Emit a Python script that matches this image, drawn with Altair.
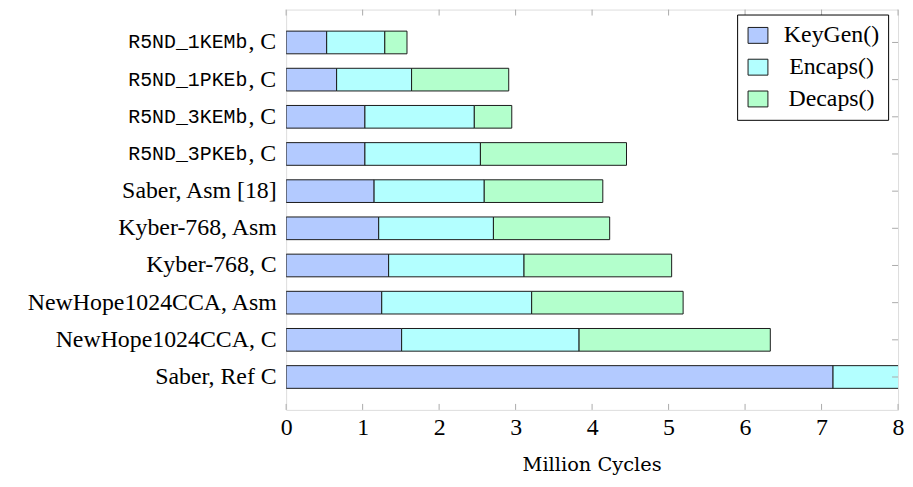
import altair as alt
import pandas as pd

categories = ["R5ND_1KEMb, C", "R5ND_1PKEb, C", "R5ND_3KEMb, C", "R5ND_3PKEb, C",
              "Saber, Asm [18]", "Kyber-768, Asm", "Kyber-768, C",
              "NewHope1024CCA, Asm", "NewHope1024CCA, C", "Saber, Ref C"]
tt_parts = ["R5ND_1KEMb", "R5ND_1PKEb", "R5ND_3KEMb", "R5ND_3PKEb"]
tt_suffix = ", C"
steps = ["KeyGen()", "Encaps()", "Decaps()"]
keygen = [0.53, 0.66, 1.03, 1.03, 1.15, 1.21, 1.34, 1.25, 1.51, 7.15]
encaps = [0.76, 0.98, 1.43, 1.51, 1.44, 1.50, 1.77, 1.96, 2.32, 2.00]
decaps = [0.29, 1.27, 0.49, 1.91, 1.55, 1.52, 1.93, 1.98, 2.50, 2.50]
x_ticks = [0, 1, 2, 3, 4, 5, 6, 7, 8]
x_title = ["Million Cycles"]
colors = ["#b3caff", "#b3ffff", "#b3ffcc"]

W, H = 616, 403
SERIF = "Liberation Serif"
MONO = "Liberation Mono"
FS = 24

rows = []
for i, c in enumerate(categories):
    for j, (s, vals) in enumerate(zip(steps, [keygen, encaps, decaps])):
        rows.append({"cat": c, "step": s, "order": j, "value": vals[i]})
df = pd.DataFrame(rows)
df_tt = pd.DataFrame({"cat": categories[:4], "tt": tt_parts, "suf": [tt_suffix] * 4})
df_cat = pd.DataFrame({"cat": categories})
df_x = pd.DataFrame({"x": x_ticks})
df_title = pd.DataFrame({"t": x_title})

yscale = alt.Scale(domain=categories, paddingInner=0.39, paddingOuter=0.58)
xscale = alt.Scale(domain=[0, 8], nice=False, zero=True)

yaxis = alt.Axis(title=None, ticks=False, domain=False, labelPadding=10,
                 labelFont=SERIF, labelFontSize=FS, labelColor="black", labelLimit=0,
                 labelExpr="indexof(datum.label, 'R5ND') == 0 ? '' : datum.label")
xaxis = alt.Axis(values=x_ticks, format="d", grid=False, ticks=False, domain=False,
                 labelFlush=False, title=None,
                 labelPadding=6, labelFont=SERIF, labelFontSize=FS, labelColor="black")

sym = "M-1,-0.8L1,-0.8L1,0.8L-1,0.8Z"

bars = alt.Chart(df).mark_bar(stroke="#1a1a1a", strokeWidth=1, clip=True).encode(
    y=alt.Y("cat:N", scale=yscale, axis=yaxis),
    x=alt.X("value:Q", stack="zero", scale=xscale, axis=xaxis),
    color=alt.Color("step:N", scale=alt.Scale(domain=steps, range=colors),
                    legend=alt.Legend(title=None, orient="none", legendX=454, legendY=5,
                                      fillColor="white", strokeColor="black", padding=9,
                                      symbolType=sym, symbolSize=400, symbolStrokeColor="#1a1a1a",
                                      symbolStrokeWidth=1, symbolOpacity=1,
                                      labelFont=SERIF, labelFontSize=FS, labelColor="black",
                                      labelAlign="center", labelOffset=62, rowPadding=8)),
    order=alt.Order("order:Q"),
)

tt_text = alt.Chart(df_tt).mark_text(align="right", baseline="middle", font=MONO,
                                     fontSize=20, color="black").encode(
    y=alt.Y("cat:N", scale=yscale, axis=yaxis), x=alt.value(-39), text="tt:N")
suf_text = alt.Chart(df_tt).mark_text(align="right", baseline="middle", font=SERIF,
                                      fontSize=FS, color="black").encode(
    y=alt.Y("cat:N", scale=yscale, axis=yaxis), x=alt.value(-10), text="suf:N")
title_text = alt.Chart(df_title).mark_text(align="center", baseline="middle", font="DejaVu Serif",
                                           fontSize=19.5, color="black").encode(
    x=alt.value(W / 2), y=alt.value(H + 56), text="t:N")

top_ticks = alt.Chart(df_x).mark_rule(color="#aaaaaa", strokeWidth=1).encode(
    x=alt.X("x:Q", scale=xscale, axis=xaxis), y=alt.value(0), y2=alt.value(6))
bot_ticks = alt.Chart(df_x).mark_rule(color="#aaaaaa", strokeWidth=1).encode(
    x=alt.X("x:Q", scale=xscale, axis=xaxis), y=alt.value(H - 6), y2=alt.value(H))
right_ticks = alt.Chart(df_cat).mark_rule(color="#aaaaaa", strokeWidth=1).encode(
    y=alt.Y("cat:N", scale=yscale, axis=yaxis), x=alt.value(W - 6), x2=alt.value(W))

chart = alt.layer(bars, top_ticks, bot_ticks, right_ticks, tt_text, suf_text, title_text).properties(
    width=W, height=H,
    autosize=alt.AutoSizeParams(type="none"),
    padding={"left": 280, "top": 0, "right": 7, "bottom": 68},
).configure_view(stroke="black", strokeWidth=1).configure(background="white", font=SERIF)

chart.save("out.html", embed_options={"renderer": "svg", "actions": False})
